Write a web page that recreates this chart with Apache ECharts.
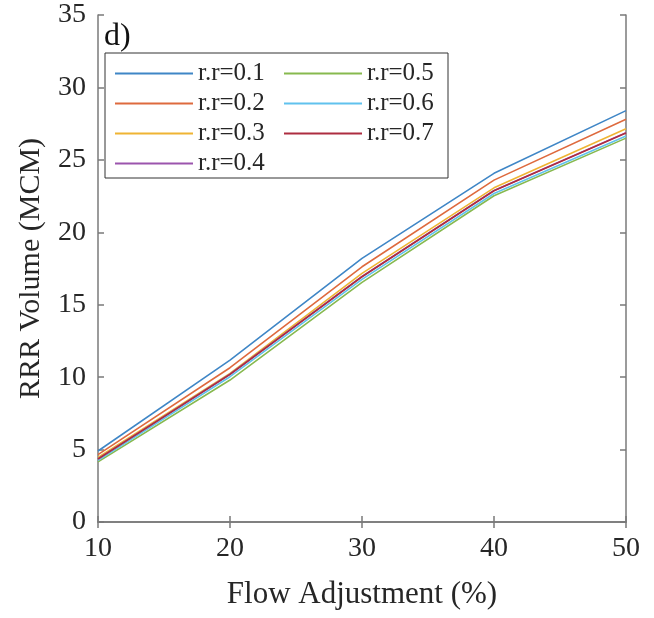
<!DOCTYPE html>
<html>
<head>
<meta charset="utf-8">
<script src="https://cdn.jsdelivr.net/npm/echarts@6/dist/echarts.min.js"></script>
<style>html,body{margin:0;padding:0;background:#fff}#c{width:654px;height:618px}</style>
</head>
<body>
<div id="c"></div>
<script>
const flowAdjustment = [10, 20, 30, 40, 50];
const seriesNames = ['r.r=0.1','r.r=0.2','r.r=0.3','r.r=0.4','r.r=0.5','r.r=0.6','r.r=0.7'];
const rr01 = [4.90, 11.18, 18.20, 24.07, 28.40];
const rr02 = [4.65, 10.65, 17.62, 23.60, 27.80];
const rr03 = [4.45, 10.26, 17.16, 23.07, 27.15];
const rr04 = [4.36, 10.20, 16.95, 22.89, 26.88];
const rr05 = [4.15, 9.80, 16.54, 22.52, 26.50];
const rr06 = [4.25, 10.03, 16.75, 22.68, 26.65];
const rr07 = [4.35, 10.19, 16.93, 22.87, 26.85];
const yTicks = [0, 5, 10, 15, 20, 25, 30, 35];
const xTicks = [10, 20, 30, 40, 50];

const allValues = [rr01, rr02, rr03, rr04, rr05, rr06, rr07];
const colors = ['#3f86c6','#de6a3e','#efb433','#9b55ad','#87b94f','#60c2ee','#ad2d40'];
const FONT = '"Liberation Serif", "Times New Roman", serif';
const axisColor = '#7a7a7a';

const chart = echarts.init(document.getElementById('c'));
const series = seriesNames.map((n, i) => ({
  name: n,
  type: 'line',
  data: flowAdjustment.map((x, j) => [x, allValues[i][j]]),
  symbol: 'none',
  lineStyle: { width: 1.6, color: colors[i] },
  itemStyle: { color: colors[i] },
  xAxisIndex: 0, yAxisIndex: 0
}));

const legendCommon = {
  orient: 'vertical',
  icon: 'rect',
  itemWidth: 78,
  itemHeight: 2,
  itemGap: 5,
  z: 20,
  textStyle: { fontFamily: FONT, fontSize: 25, color: '#262626' },
  padding: 0,
  selectedMode: false
};

chart.setOption({
  animation: false,
  textStyle: { fontFamily: FONT },
  grid: { left: 98, right: 28, top: 15, bottom: 96 },
  xAxis: [{
    type: 'value', min: 10, max: 50, interval: 10,
    name: 'Flow Adjustment (%)', nameLocation: 'middle', nameGap: 57,
    nameTextStyle: { fontFamily: FONT, fontSize: 31, color: '#262626' },
    axisLine: { show: true, lineStyle: { color: axisColor, width: 1.5 } },
    axisTick: { show: true, inside: true, length: 6, lineStyle: { color: axisColor, width: 1.5 } },
    axisLabel: { fontFamily: FONT, fontSize: 28, color: '#262626', margin: 13 },
    splitLine: { show: false }
  }, {
    type: 'value', min: 10, max: 50, interval: 10, position: 'top',
    axisLine: { show: true, lineStyle: { color: axisColor, width: 1.5 } },
    axisTick: { show: true, inside: true, length: 6, lineStyle: { color: axisColor, width: 1.5 } },
    axisLabel: { show: false }, splitLine: { show: false }
  }],
  yAxis: [{
    type: 'value', min: 0, max: 35, interval: 5,
    name: 'RRR Volume (MCM)', nameLocation: 'middle', nameGap: 52,
    nameTextStyle: { fontFamily: FONT, fontSize: 30, color: '#262626' },
    axisLine: { show: true, lineStyle: { color: axisColor, width: 1.5 } },
    axisTick: { show: true, inside: true, length: 6, lineStyle: { color: axisColor, width: 1.5 } },
    axisLabel: { fontFamily: FONT, fontSize: 28, color: '#262626', margin: 12 },
    splitLine: { show: false }
  }, {
    type: 'value', min: 0, max: 35, interval: 5, position: 'right',
    axisLine: { show: true, lineStyle: { color: axisColor, width: 1.5 } },
    axisTick: { show: true, inside: true, length: 6, lineStyle: { color: axisColor, width: 1.5 } },
    axisLabel: { show: false }, splitLine: { show: false }
  }],
  legend: [
    Object.assign({}, legendCommon, { data: seriesNames.slice(0, 4), left: 115, top: 61 }),
    Object.assign({}, legendCommon, { data: seriesNames.slice(4), left: 284, top: 61 })
  ],
  graphic: [
    { type: 'rect', shape: { x: 105, y: 53, width: 343, height: 125 }, style: { fill: '#fff', stroke: '#333', lineWidth: 1 }, z: 1 },
    { type: 'text', left: 104, top: 21, style: { text: 'd)', font: '32px "Liberation Serif", serif', fill: '#111' }, z: 6 }
  ],
  series: series
});
</script>
</body>
</html>
